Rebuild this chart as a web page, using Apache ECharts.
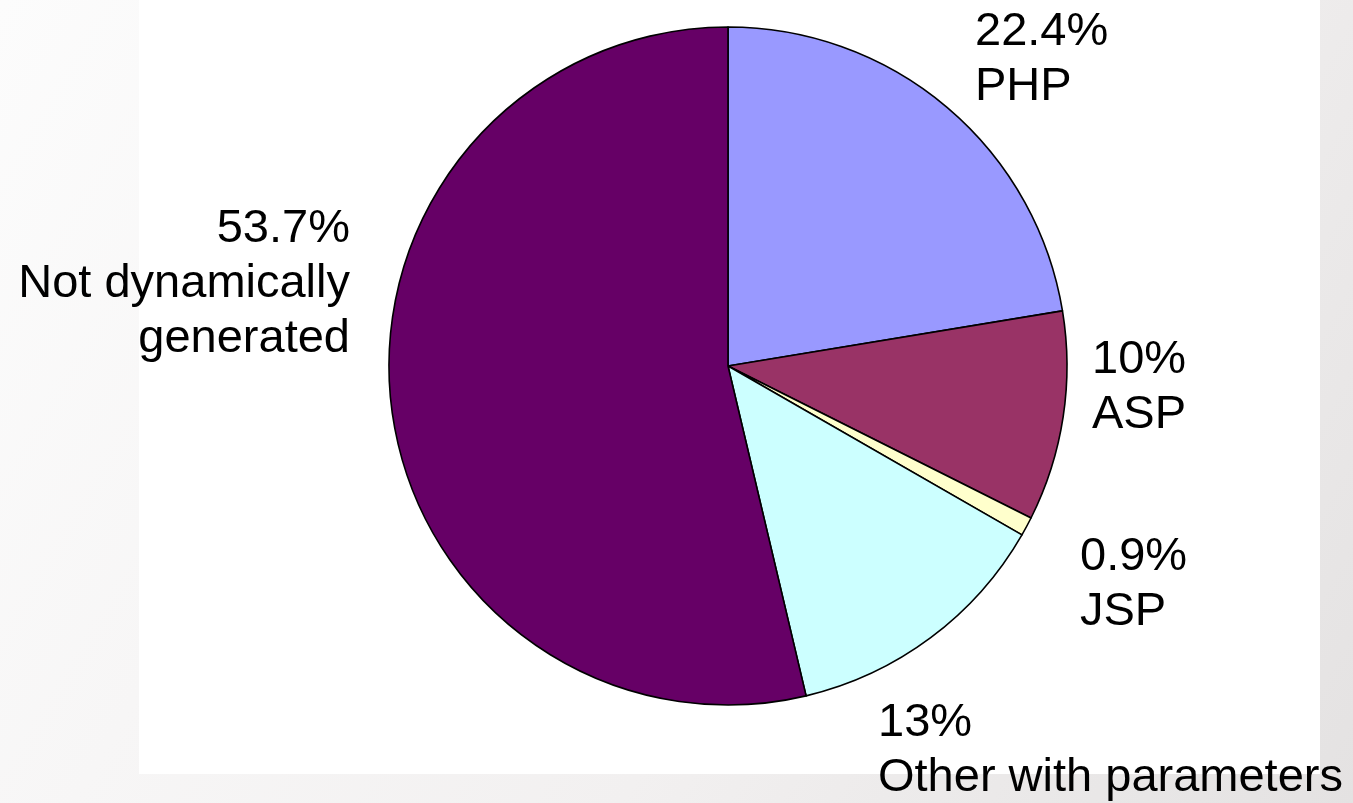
<!DOCTYPE html>
<html>
<head>
<meta charset="utf-8">
<title>Web page generation</title>
<script src="https://cdn.jsdelivr.net/npm/echarts@6/dist/echarts.min.js"></script>
<style>
  html, body { margin: 0; padding: 0; background: #f3f1f1; }
  #chart { width: 1353px; height: 803px; }
</style>
</head>
<body>
<div id="chart"></div>
<script>
// Share of pages by how they are produced (percent)
const categories = ['PHP', 'ASP', 'JSP', 'Other with parameters', 'Not dynamically\ngenerated'];
const shares = [22.4, 10, 0.9, 13, 53.7];
const sliceColors = ['#9999ff', '#993366', '#ffffcc', '#ccffff', '#660066'];

// Where each label block sits (anchor of the text block)
const labelSpots = [
  { x: 975, y: 60, align: 'left' },
  { x: 1092, y: 388, align: 'left' },
  { x: 1080, y: 585, align: 'left' },
  { x: 878, y: 751, align: 'left' },
  { x: 350, y: 284, align: 'right' }
];

const chart = echarts.init(document.getElementById('chart'), null, { renderer: 'canvas' });

const option = {
  backgroundColor: '#f3f1f1',
  animation: false,
  graphic: [
    {
      type: 'rect', silent: true, z: -10,
      shape: { x: 0, y: 0, width: 1353, height: 803 },
      style: {
        fill: new echarts.graphic.LinearGradient(0, 0, 1, 1, [
          { offset: 0, color: '#fcfcfc' },
          { offset: 0.6, color: '#f2f0f0' },
          { offset: 1, color: '#e4e2e2' }
        ])
      }
    },
    {
      type: 'rect', silent: true, z: -9,
      shape: { x: 139, y: 0, width: 1181, height: 774 },
      style: { fill: '#ffffff' }
    }
  ],
  series: [{
    type: 'pie',
    center: [728, 366],
    radius: 339,
    startAngle: 90,
    clockwise: true,
    avoidLabelOverlap: false,
    data: categories.map((name, i) => ({
      name: name,
      value: shares[i],
      itemStyle: { color: sliceColors[i] }
    })),
    itemStyle: { borderColor: '#000000', borderWidth: 1.6 },
    label: {
      show: true,
      position: 'outside',
      formatter: p => p.value + '%\n' + p.name,
      fontFamily: 'Liberation Sans, Arial, sans-serif',
      fontSize: 47,
      lineHeight: 55,
      color: '#000000'
    },
    labelLine: { show: false },
    labelLayout: function (params) {
      const s = labelSpots[params.dataIndex];
      return { x: s.x, y: s.y, align: s.align, verticalAlign: 'middle', hideOverlap: false };
    },
    emphasis: { disabled: true }
  }]
};

chart.setOption(option);
</script>
</body>
</html>
